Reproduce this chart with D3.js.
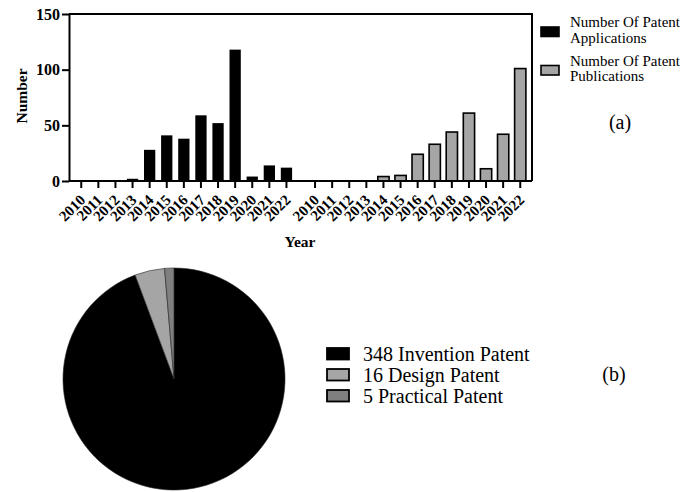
<!DOCTYPE html>
<html>
<head>
<meta charset="utf-8">
<script src="https://cdn.jsdelivr.net/npm/d3@7"></script>
<style>
  body { margin: 0; background: #fff; }
  svg text { font-family: "Liberation Serif", "Times New Roman", Times, serif; fill: #000; }
  .axis path, .axis line { stroke: #000; stroke-width: 2; }
  .axis text { font-size: 16px; font-weight: bold; }
</style>
</head>
<body>
<div id="chart"></div>
<script>
// bar chart data (a)
const years = ['2010', '2011', '2012', '2013', '2014', '2015', '2016', '2017', '2018', '2019', '2020', '2021', '2022'];
const applications = [0, 0, 0, 2, 28, 41, 38, 59, 52, 118, 4, 14, 12];
const publications = [0, 0, 0, 0, 4, 5, 24, 33, 44, 61, 11, 42, 101];
const yTicks = [0, 50, 100, 150];
const barLegend = [
  ['Number Of Patent', 'Applications'],
  ['Number Of Patent', 'Publications'],
];

// pie chart data (b)
const patentTypes = ['Invention Patent', 'Design Patent', 'Practical Patent'];
const patentCounts = [348, 16, 5];

const barColors = ['#000', '#a5a5a5'];
const pieColors = ['#000', '#a5a5a5', '#7f7f7f'];

function drawBars(svg) {
  const top = 14, bottom = 181, left = 69, right = 532;

  const yScale = d3.scaleLinear().domain([0, 150]).range([bottom, top]);

  // two groups of years, each has its own band scale
  const xApp = d3.scaleBand().domain(years).range([72.7, 295]).paddingInner(0.34).paddingOuter(0.17);
  const xPub = d3.scaleBand().domain(years).range([306.5, 528.8]).paddingInner(0.34).paddingOuter(0.17);

  // frame (top + right)
  svg.append('path')
    .attr('d', `M${left},${top}H${right}V${bottom}`)
    .attr('fill', 'none')
    .attr('stroke', '#000')
    .attr('stroke-width', 2);

  // bars
  svg.append('g').selectAll('rect')
    .data(applications)
    .join('rect')
    .attr('x', (d, i) => xApp(years[i]))
    .attr('y', (d) => yScale(d))
    .attr('width', xApp.bandwidth())
    .attr('height', (d) => bottom - yScale(d))
    .attr('fill', barColors[0]);

  svg.append('g').selectAll('rect')
    .data(publications)
    .join('rect')
    .attr('x', (d, i) => xPub(years[i]))
    .attr('y', (d) => yScale(d))
    .attr('width', xPub.bandwidth())
    .attr('height', (d) => bottom - yScale(d))
    .attr('fill', barColors[1])
    .attr('stroke', (d) => (d > 0 ? '#000' : 'none'))
    .attr('stroke-width', 1.6);

  // y axis
  const yAxis = svg.append('g')
    .attr('class', 'axis')
    .attr('transform', `translate(${left},0)`)
    .call(d3.axisLeft(yScale).tickValues(yTicks).tickSize(7).tickSizeOuter(0).tickPadding(2));
  yAxis.attr('font-family', null).attr('font-size', null);

  // x axis baseline
  svg.append('line')
    .attr('x1', left).attr('x2', right)
    .attr('y1', bottom).attr('y2', bottom)
    .attr('stroke', '#000').attr('stroke-width', 2);

  [xApp, xPub].forEach((scale) => {
    const g = svg.append('g')
      .attr('class', 'axis')
      .attr('transform', `translate(0,${bottom})`)
      .call(d3.axisBottom(scale).tickSize(7).tickSizeOuter(0));
    g.attr('font-family', null).attr('font-size', null);
    g.select('.domain').remove();
    g.selectAll('text')
      .style('font-size', '15px')
      .attr('text-anchor', 'end')
      .attr('dy', null)
      .attr('y', 0)
      .attr('transform', 'translate(5,20) rotate(-45)');
  });

  // axis titles
  svg.append('text')
    .attr('transform', 'translate(27,96) rotate(-90)')
    .attr('text-anchor', 'middle')
    .style('font-size', '15.5px')
    .style('font-weight', 'bold')
    .text('Number');

  svg.append('text')
    .attr('x', 300).attr('y', 247)
    .attr('text-anchor', 'middle')
    .style('font-size', '15.5px')
    .style('font-weight', 'bold')
    .text('Year');

  // legend
  const legend = svg.append('g').attr('transform', 'translate(541,0)');
  barLegend.forEach((lines, i) => {
    const y0 = 27 + i * 38.5;
    legend.append('rect')
      .attr('x', 0).attr('y', y0)
      .attr('width', 18).attr('height', 9.5)
      .attr('fill', barColors[i])
      .attr('stroke', '#000').attr('stroke-width', 1.6);
    lines.forEach((t, j) => {
      legend.append('text')
        .attr('x', 29).attr('y', y0 + j * 15.5)
        .style('font-size', '15px')
        .text(t);
    });
  });

  svg.append('text')
    .attr('x', 620).attr('y', 129)
    .attr('text-anchor', 'middle')
    .style('font-size', '20px')
    .text('(a)');
}

function drawPie(svg) {
  const cx = 174, cy = 379, r = 111;

  const pie = d3.pie().sort(null).value((d) => d);
  const arc = d3.arc().innerRadius(0).outerRadius(r);

  svg.append('g')
    .attr('transform', `translate(${cx},${cy})`)
    .selectAll('path')
    .data(pie(patentCounts))
    .join('path')
    .attr('d', arc)
    .attr('fill', (d, i) => pieColors[i])
    .attr('stroke', '#222')
    .attr('stroke-width', 0.6);

  const legend = svg.append('g').attr('transform', 'translate(326,347)');
  patentTypes.forEach((name, i) => {
    legend.append('rect')
      .attr('x', 1).attr('y', i * 21 + 1)
      .attr('width', 22).attr('height', 11.5)
      .attr('fill', pieColors[i])
      .attr('stroke', '#000').attr('stroke-width', 1.8);
    legend.append('text')
      .attr('x', 37).attr('y', i * 21 + 13.5)
      .style('font-size', '20px')
      .text(`${patentCounts[i]} ${name}`);
  });

  svg.append('text')
    .attr('x', 614).attr('y', 381)
    .attr('text-anchor', 'middle')
    .style('font-size', '20px')
    .text('(b)');
}

const svg = d3.select('#chart')
  .append('svg')
  .attr('width', 684)
  .attr('height', 492);

drawBars(svg);
drawPie(svg);
</script>
</body>
</html>
